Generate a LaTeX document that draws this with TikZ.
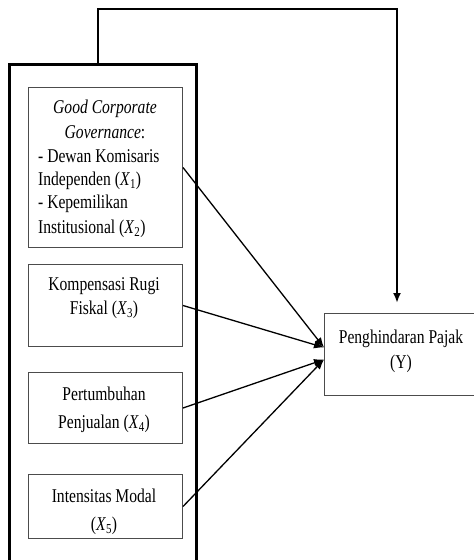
\documentclass[tikz,border=0pt]{standalone}
\usepackage{fontspec}
\setmainfont{Liberation Serif}
\usetikzlibrary{arrows.meta}
\tikzset{
  outerbox/.style={draw=black, line width=3pt, inner sep=0pt, anchor=north west},
  inbox/.style={draw=black!70, line width=1pt, inner sep=0pt, anchor=north west},
  ybox/.style={draw=black!70, line width=1pt, inner sep=0pt, anchor=north west},
  txt/.style={font=\fontsize{19.5}{23}\selectfont, inner sep=0pt, xscale=0.8, anchor=base},
  txtl/.style={txt, anchor=base west},
  link/.style={draw=black, line width=1.3pt, -{Latex[length=10pt,width=8pt]}},
  feedback/.style={draw=black, line width=2.2pt, -{Latex[length=10pt,width=8pt]}}
}
\newcommand{\Xs}[1]{\textit{X}\textsubscript{#1}}
\begin{document}
\begin{tikzpicture}[x=1pt, y=-1pt]
\useasboundingbox (0,0) rectangle (474,560);
% outer frame
\node[outerbox, minimum width=187pt, minimum height=505pt] (outer) at (8,63) {};
% inner boxes
\node[inbox, minimum width=154pt, minimum height=160pt] (b1) at (28,87) {};
\node[inbox, minimum width=154pt, minimum height=82pt] (b2) at (28,264) {};
\node[inbox, minimum width=154pt, minimum height=71pt] (b3) at (28,372) {};
\node[inbox, minimum width=154pt, minimum height=64pt] (b4) at (28,474) {};
% dependent box
\node[ybox, minimum width=153pt, minimum height=82pt] (Y) at (324,313) {};
% texts box 1
\node[txt] (t1a) at (105,113) {\textit{Good Corporate}};
\node[txt] (t1b) at (105,138) {\textit{Governance}:};
\node[txtl] (t1c) at (38,162) {- Dewan Komisaris};
\node[txtl] (t1d) at (38,185) {Independen (\Xs{1})};
\node[txtl] (t1e) at (38,208) {- Kepemilikan};
\node[txtl] (t1f) at (38,233) {Institusional (\Xs{2})};
% texts box 2
\node[txt] (t2a) at (104,290) {Kompensasi Rugi};
\node[txt] (t2b) at (104,314) {Fiskal (\Xs{3})};
% texts box 3
\node[txt] (t3a) at (104,400) {Pertumbuhan};
\node[txt] (t3b) at (104,428) {Penjualan (\Xs{4})};
% texts box 4
\node[txt] (t4a) at (104,502) {Intensitas Modal};
\node[txt] (t4b) at (104,530) {(\Xs{5})};
% texts Y
\node[txt] (tya) at (401,343) {Penghindaran Pajak};
\node[txt] (tyb) at (401,368) {(Y)};
% connectors
\coordinate (ya) at ([yshift=7pt]Y.west);
\coordinate (yb) at ([yshift=-5pt]Y.west);
\draw[link] (b1.east) -- (ya);
\draw[link] (b2.east) -- (ya);
\draw[link] (b3.east) -- (yb);
\draw[link] (b4.east) -- (yb);
\coordinate (tl) at (98,9);
\coordinate (tr) at (397,9);
\coordinate (te) at (397,303);
\draw[feedback] (tl |- outer.north) -- (tl) -- (tr) -- (te);
\end{tikzpicture}
\end{document}
